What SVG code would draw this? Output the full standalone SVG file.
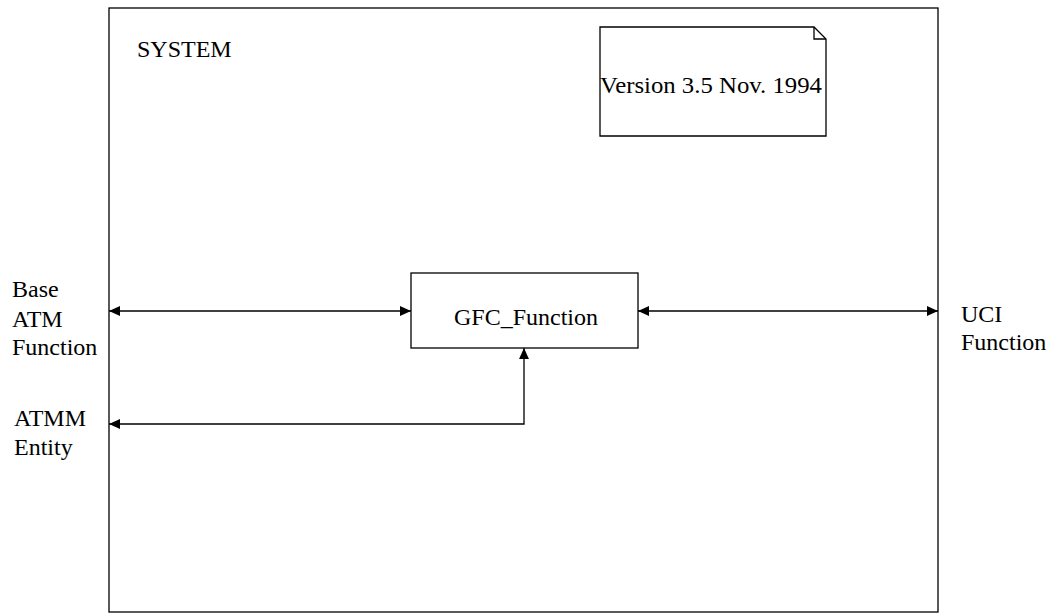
<svg xmlns="http://www.w3.org/2000/svg" width="1053" height="615" viewBox="0 0 1053 615">
<style>
.box{fill:#fff;stroke:#000;stroke-width:1.3}
.ln{fill:none;stroke:#000;stroke-width:1.3}
text{font-family:"Liberation Serif","Times New Roman",serif;font-size:24px;fill:#000}
</style>
<defs>
<marker id="ah" viewBox="0 0 10 10" refX="10" refY="5" markerWidth="11" markerHeight="11" markerUnits="userSpaceOnUse" orient="auto-start-reverse">
<path d="M0,0.5 L10,5 L0,9.5 Z" fill="#000"/>
</marker>
</defs>
<rect width="1053" height="615" fill="#fff"/>
<g id="system">
<rect class="box" x="109" y="8" width="829" height="604"/>
<text x="137" y="57">SYSTEM</text>
</g>
<g id="note">
<path class="box" d="M600,27 L814,27 L826,39 L826,136 L600,136 Z"/>
<path class="ln" d="M814,27 L814,39 L826,39"/>
<text x="600" y="93" textLength="222" lengthAdjust="spacingAndGlyphs">Version 3.5 Nov. 1994</text>
</g>
<g id="gfc">
<rect class="box" x="411" y="273" width="227" height="75"/>
<text x="526" y="325" text-anchor="middle">GFC_Function</text>
</g>
<g id="base">
<text x="12" y="297">Base</text>
<text x="12" y="327">ATM</text>
<text x="12" y="355">Function</text>
</g>
<g id="atmm">
<text x="14" y="426">ATMM</text>
<text x="14" y="455">Entity</text>
</g>
<g id="uci">
<text x="961" y="322">UCI</text>
<text x="961" y="350">Function</text>
</g>
<g id="connectors">
<path class="ln" d="M109,311 L411,311" marker-start="url(#ah)" marker-end="url(#ah)"/>
<path class="ln" d="M638,311 L938,311" marker-start="url(#ah)" marker-end="url(#ah)"/>
<path class="ln" d="M524,348 L524,424 L109,424" marker-start="url(#ah)" marker-end="url(#ah)"/>
</g>
</svg>
